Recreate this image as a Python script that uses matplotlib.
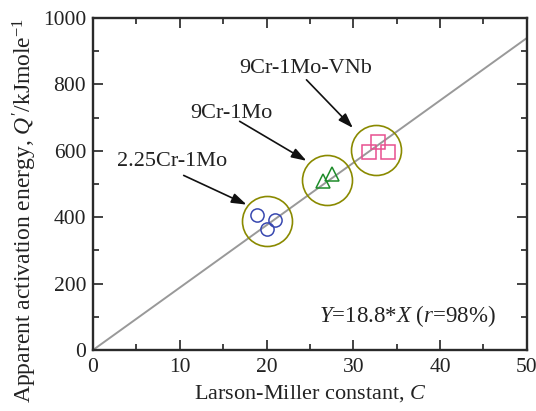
import matplotlib
matplotlib.use("Agg")
import matplotlib.pyplot as plt
import numpy as np

plt.rcParams['font.family'] = ['Liberation Serif', 'DejaVu Serif']
plt.rcParams['mathtext.fontset'] = 'custom'
plt.rcParams['mathtext.rm'] = 'Liberation Serif'
plt.rcParams['mathtext.it'] = 'Liberation Serif:italic'

# Larson-Miller constant (C) and apparent activation energy (Q', kJ/mol)
c_225cr = [18.9, 21.0, 20.0]
q_225cr = [407, 392, 364]
c_9cr = [26.5, 27.5]
q_9cr = [510, 530]
c_9crvnb = [31.8, 32.9, 34.0]
q_9crvnb = [598, 626, 598]

# group centres (circled)
group_c = [20.0, 27.0, 32.6]
group_q = [388, 513, 602]
group_names = ['2.25Cr-1Mo', '9Cr-1Mo', '9Cr-1Mo-VNb']

slope = 18.8
r_pct = 98

fig = plt.figure(figsize=(5.36, 4.11), dpi=100)
ax = fig.add_axes([0.1735, 0.1484, 0.8095, 0.8076])

xl = np.array([0, 50])
ax.plot(xl, slope * xl, color='#999999', lw=1.4, zorder=1)

ax.plot(group_c, group_q, 'o', ms=36, mfc='none', mec='#8a8a00', mew=1.2, zorder=2)
ax.plot(c_225cr, q_225cr, 'o', ms=9.5, mfc='none', mec='#3848b0', mew=1.1, zorder=3)
ax.plot(c_9cr, q_9cr, '^', ms=10.5, mfc='none', mec='#1e8c2a', mew=1.1, zorder=3)
ax.plot(c_9crvnb, q_9crvnb, 's', ms=10, mfc='none', mec='#e85090', mew=1.1, zorder=3)

# labels with arrows pointing at each group
label_xy = [(9.1, 568), (15.9, 714), (24.55, 849)]
arrow_start = [(10.45, 526), (16.9, 689), (24.6, 814)]
arrow_end = [(17.7, 438), (24.6, 570), (29.95, 669)]
for name, (tx, ty), s, e in zip(group_names, label_xy, arrow_start, arrow_end):
    ax.text(tx, ty, name, fontsize=16, ha='center', va='center', color='#222222')
    ax.annotate('', xy=e, xytext=s,
                arrowprops=dict(arrowstyle='-|>,head_length=0.9,head_width=0.3',
                                color='#111111', lw=1.2, shrinkA=0, shrinkB=0))

ax.text(46.4, 103, f'$Y$={slope}*$X$ ($r$={r_pct}%)', fontsize=16.5,
        ha='right', va='center', color='#222222')

ax.set_xlim(0, 50)
ax.set_ylim(0, 1000)
ax.set_xticks([0, 10, 20, 30, 40, 50])
ax.set_yticks([0, 200, 400, 600, 800, 1000])
ax.set_xticks(np.arange(0, 51, 5), minor=True)
ax.set_yticks(np.arange(0, 1001, 100), minor=True)
ax.tick_params(which='both', direction='in', top=True, right=True,
               labelsize=15.5, colors='#222222', width=1.2)
ax.tick_params(which='major', length=7.2)
ax.tick_params(axis='x', which='major', pad=6)
ax.tick_params(axis='y', which='major', pad=5)
ax.tick_params(which='minor', length=4.3)
for sp in ax.spines.values():
    sp.set_linewidth(1.7)
    sp.set_color('#2a2a2a')

ax.set_xlabel('Larson-Miller constant, $C$', fontsize=16, color='#222222', labelpad=4)
ax.set_ylabel("Apparent activation energy, $Q'$/kJmole$^{-1}$", fontsize=17,
              color='#222222')
ax.yaxis.set_label_coords(-0.125, 0.42)

fig.savefig('out.png', dpi=100)
